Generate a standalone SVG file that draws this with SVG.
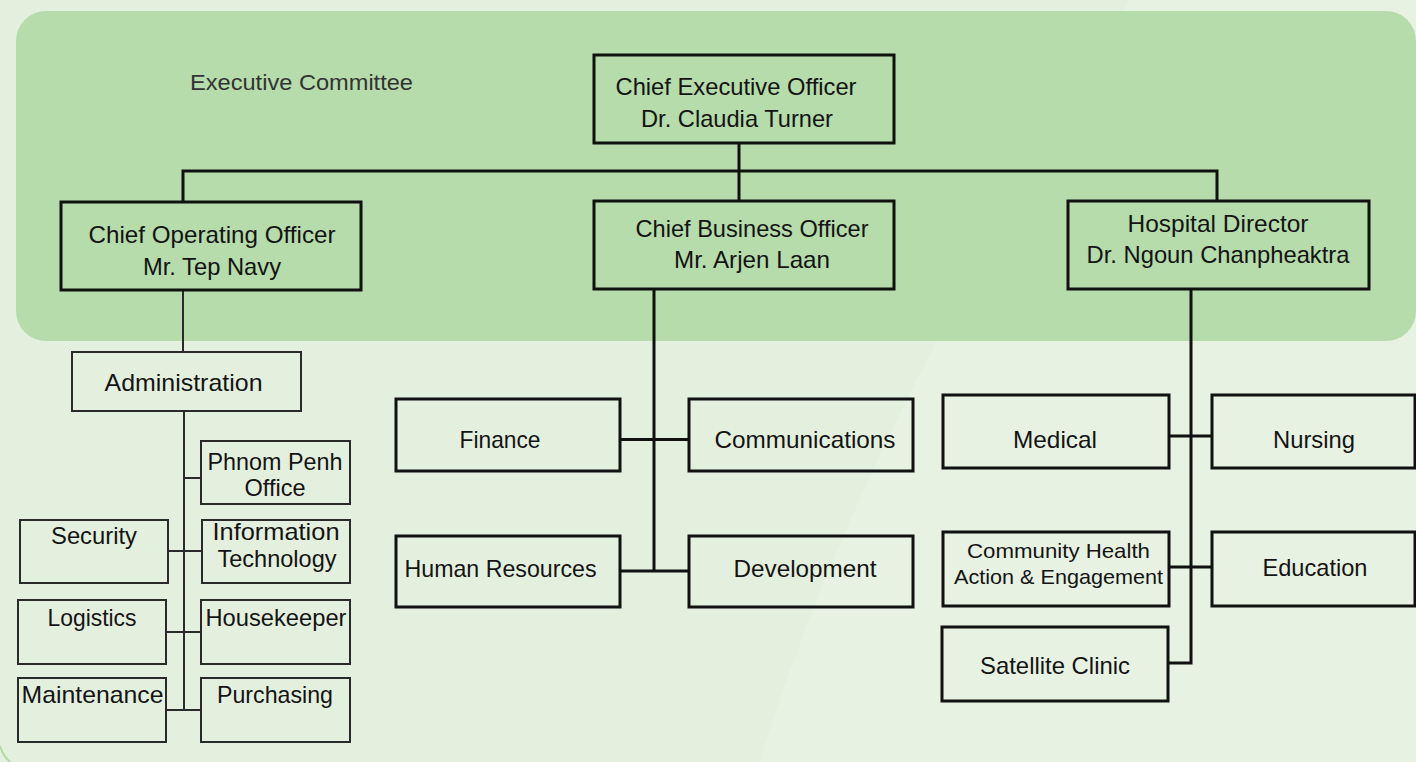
<svg xmlns="http://www.w3.org/2000/svg" width="1416" height="762" viewBox="0 0 1416 762">
<style>
text{font-family:"Liberation Sans",Arial,sans-serif;font-size:24px;fill:#141414;text-anchor:middle}
.sm{font-size:21px}
.lbl{font-size:22px;fill:#333;text-anchor:start}
.b3{fill:none;stroke:#111;stroke-width:3}
.b2{fill:none;stroke:#2a2a2a;stroke-width:2}
.c3{fill:none;stroke:#111;stroke-width:3}
.c2{fill:none;stroke:#2a2a2a;stroke-width:2}
</style>
<rect x="0" y="0" width="1416" height="762" fill="#e4f0de"/>
<path d="M760 762 C820 560 930 330 1130 0 L1416 0 L1416 762 Z" fill="#eaf5e7" opacity="0.45"/>
<rect x="16" y="11" width="1400" height="330" rx="30" fill="#b5dcaa"/>
<path d="M0 746 Q3 756 10 762" fill="none" stroke="#b0d9a3" stroke-width="2"/>
<text class="lbl" x="190" y="90" textLength="223" lengthAdjust="spacingAndGlyphs">Executive Committee</text>

<g id="connectors">
<path class="c3" d="M739 143 V201"/>
<path class="c3" d="M183 202 V171 H1217 V201"/>
<path class="c2" d="M183 290 V352"/>
<path class="c2" d="M184 411 V710"/>
<path class="c2" d="M184 478 H201"/>
<path class="c2" d="M168 551 H202"/>
<path class="c2" d="M166 632 H201"/>
<path class="c2" d="M166 710 H201"/>
<path class="c3" d="M654 289 V571"/>
<path class="c3" d="M620 439.5 H689"/>
<path class="c3" d="M620 571 H689"/>
<path class="c3" d="M1191 289 V663 H1168"/>
<path class="c3" d="M1169 436 H1212"/>
<path class="c3" d="M1169 567 H1212"/>
</g>

<g id="ceo"><rect class="b3" x="594" y="55" width="300" height="88"/>
<text x="736" y="95" textLength="241" lengthAdjust="spacingAndGlyphs">Chief Executive Officer</text>
<text x="737" y="127" textLength="192" lengthAdjust="spacingAndGlyphs">Dr. Claudia Turner</text></g>

<g id="coo"><rect class="b3" x="61" y="202" width="300" height="88"/>
<text x="212" y="243" textLength="247" lengthAdjust="spacingAndGlyphs">Chief Operating Officer</text>
<text x="212" y="275" textLength="138" lengthAdjust="spacingAndGlyphs">Mr. Tep Navy</text></g>

<g id="cbo"><rect class="b3" x="594" y="201" width="300" height="88"/>
<text x="752" y="237" textLength="233" lengthAdjust="spacingAndGlyphs">Chief Business Officer</text>
<text x="752" y="268" textLength="156" lengthAdjust="spacingAndGlyphs">Mr. Arjen Laan</text></g>

<g id="hd"><rect class="b3" x="1068" y="201" width="301" height="88"/>
<text x="1218" y="232" textLength="181" lengthAdjust="spacingAndGlyphs">Hospital Director</text>
<text x="1218" y="263" textLength="263" lengthAdjust="spacingAndGlyphs">Dr. Ngoun Chanpheaktra</text></g>

<g id="administration"><rect class="b2" x="72" y="352" width="229" height="59"/>
<text x="183.5" y="391" textLength="158" lengthAdjust="spacingAndGlyphs">Administration</text></g>

<g id="phnom-penh"><rect class="b2" x="201" y="441" width="149" height="63"/>
<text x="275" y="470" textLength="135" lengthAdjust="spacingAndGlyphs">Phnom Penh</text>
<text x="275" y="496" textLength="61" lengthAdjust="spacingAndGlyphs">Office</text></g>

<g id="security"><rect class="b2" x="20" y="520" width="148" height="63"/>
<text x="94" y="544" textLength="86" lengthAdjust="spacingAndGlyphs">Security</text></g>

<g id="it"><rect class="b2" x="202" y="520" width="148" height="63"/>
<text x="276" y="540" textLength="127" lengthAdjust="spacingAndGlyphs">Information</text>
<text x="277" y="567" textLength="119" lengthAdjust="spacingAndGlyphs">Technology</text></g>

<g id="logistics"><rect class="b2" x="18" y="600" width="148" height="64"/>
<text x="92" y="626" textLength="89" lengthAdjust="spacingAndGlyphs">Logistics</text></g>

<g id="housekeeper"><rect class="b2" x="201" y="600" width="149" height="64"/>
<text x="276" y="626" textLength="141" lengthAdjust="spacingAndGlyphs">Housekeeper</text></g>

<g id="maintenance"><rect class="b2" x="18" y="678" width="148" height="64"/>
<text x="92.5" y="703" textLength="142" lengthAdjust="spacingAndGlyphs">Maintenance</text></g>

<g id="purchasing"><rect class="b2" x="201" y="678" width="149" height="64"/>
<text x="275" y="703" textLength="116" lengthAdjust="spacingAndGlyphs">Purchasing</text></g>

<g id="finance"><rect class="b3" x="396" y="399" width="224" height="72"/>
<text x="500" y="448" textLength="81" lengthAdjust="spacingAndGlyphs">Finance</text></g>

<g id="communications"><rect class="b3" x="689" y="399" width="224" height="72"/>
<text x="805" y="448" textLength="181" lengthAdjust="spacingAndGlyphs">Communications</text></g>

<g id="hr"><rect class="b3" x="396" y="536" width="224" height="71"/>
<text x="500.5" y="577" textLength="192" lengthAdjust="spacingAndGlyphs">Human Resources</text></g>

<g id="development"><rect class="b3" x="689" y="536" width="224" height="71"/>
<text x="805" y="577" textLength="143" lengthAdjust="spacingAndGlyphs">Development</text></g>

<g id="medical"><rect class="b3" x="943" y="395" width="226" height="73"/>
<text x="1055" y="448" textLength="84" lengthAdjust="spacingAndGlyphs">Medical</text></g>

<g id="nursing"><rect class="b3" x="1212" y="395" width="203" height="73"/>
<text x="1314" y="448" textLength="82" lengthAdjust="spacingAndGlyphs">Nursing</text></g>

<g id="chae"><rect class="b3" x="943" y="532" width="226" height="74"/>
<text class="sm" x="1058.5" y="558" textLength="183" lengthAdjust="spacingAndGlyphs">Community Health</text>
<text class="sm" x="1058.5" y="584" textLength="209" lengthAdjust="spacingAndGlyphs">Action &amp; Engagement</text></g>

<g id="education"><rect class="b3" x="1212" y="532" width="203" height="74"/>
<text x="1315" y="576" textLength="105" lengthAdjust="spacingAndGlyphs">Education</text></g>

<g id="satellite"><rect class="b3" x="942" y="627" width="226" height="74"/>
<text x="1055" y="674" textLength="150" lengthAdjust="spacingAndGlyphs">Satellite Clinic</text></g>
</svg>
